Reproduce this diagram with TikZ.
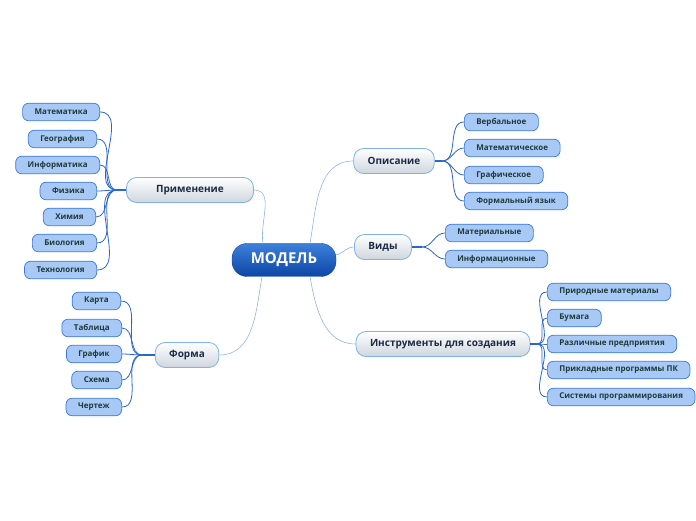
\documentclass[tikz,border=0pt]{standalone}
\usepackage{fontspec}
\setmainfont{Open Sans}
\usepackage{tikz}
\usetikzlibrary{positioning}
\definecolor{leaffill}{HTML}{A8C8F5}
\definecolor{leafdraw}{HTML}{3A78D8}
\definecolor{leaftext}{HTML}{1E3B3B}
\definecolor{branchdraw}{HTML}{7FB2E5}
\definecolor{branchtext}{HTML}{1C2B45}
\definecolor{branchlow}{HTML}{CFD6DE}
\definecolor{modeltop}{HTML}{3D80DA}
\definecolor{modellow}{HTML}{0C46A6}
\definecolor{leaflink}{HTML}{2A66D0}
\definecolor{mainlink}{HTML}{8FB4E3}

\begin{document}
\begin{tikzpicture}[x=1pt,y=1pt,
    modelbox/.style={draw=modellow,top color=modeltop,bottom color=modellow,
      rounded corners=15pt,minimum width=104pt,minimum height=33pt,
      text=white,font=\fontsize{15}{15}\selectfont\bfseries},
    branchbox/.style={draw=branchdraw,line width=0.8pt,top color=white,bottom color=branchlow,
      rounded corners=10pt,minimum height=25pt,inner xsep=14pt,
      text=branchtext,font=\fontsize{10}{10}\selectfont\bfseries},
    leafbox/.style={draw=leafdraw,fill=leaffill,line width=0.7pt,
      rounded corners=6pt,minimum height=17.5pt,inner xsep=12pt,inner ysep=0pt,
      text=leaftext,font=\fontsize{8}{8}\selectfont\bfseries},
    mainline/.style={draw=mainlink,line width=0.6pt},
    leafline/.style={draw=leaflink,line width=0.8pt},
    stemline/.style={draw=leaflink,line width=1.6pt}]
  \useasboundingbox (0,0) rectangle (696,520);

  % Center
  \node[modelbox] (model) at (284,260) {МОДЕЛЬ};

  % Main branches
  \node[branchbox,minimum width=127pt] (prim) at (190,330) {Применение};
  \node[branchbox] (forma) at (187,165) {Форма};
  \node[branchbox] (opis) at (394,359) {Описание};
  \node[branchbox] (vidy) at (383,273) {Виды};
  \node[branchbox] (instr) at (443,176) {Инструменты для создания};

  % Leaves of Применение
  \node[leafbox,anchor=east] (p1) at (100,408) {Математика};
  \node[leafbox,anchor=east] (p2) at (97,381) {География};
  \node[leafbox,anchor=east] (p3) at (100,355) {Информатика};
  \node[leafbox,anchor=east] (p4) at (97,329) {Физика};
  \node[leafbox,anchor=east] (p5) at (96,303) {Химия};
  \node[leafbox,anchor=east] (p6) at (97,277) {Биология};
  \node[leafbox,anchor=east] (p7) at (97,250) {Технология};

  % Leaves of Форма
  \node[leafbox,anchor=east] (f1) at (121,219) {Карта};
  \node[leafbox,anchor=east] (f2) at (122,192) {Таблица};
  \node[leafbox,anchor=east] (f3) at (122,166) {График};
  \node[leafbox,anchor=east] (f4) at (122,140) {Схема};
  \node[leafbox,anchor=east] (f5) at (122,113) {Чертеж};

  % Leaves of Описание
  \node[leafbox,anchor=west] (o1) at (464,398) {Вербальное};
  \node[leafbox,anchor=west] (o2) at (464,372) {Математическое};
  \node[leafbox,anchor=west] (o3) at (464,345) {Графическое};
  \node[leafbox,anchor=west] (o4) at (464,319) {Формальный язык};

  % Leaves of Виды
  \node[leafbox,anchor=west] (v1) at (445,287) {Материальные};
  \node[leafbox,anchor=west] (v2) at (445,261) {Информационные};

  % Leaves of Инструменты
  \node[leafbox,anchor=west] (i1) at (547,228) {Природные материалы};
  \node[leafbox,anchor=west] (i2) at (547,202) {Бумага};
  \node[leafbox,anchor=west] (i3) at (547,176) {Различные предприятия};
  \node[leafbox,anchor=west] (i4) at (547,150) {Прикладные программы ПК};
  \node[leafbox,anchor=west] (i5) at (547,123) {Системы программирования};

  % Junctions
  \coordinate (jp) at (117,330);
  \coordinate (jf) at (142,165);
  \coordinate (jo) at (442,359);
  \coordinate (jv) at (422,273);
  \coordinate (ji) at (537,176);

  % Links to center
  \draw[mainline] (prim.east) to[out=0,in=100] ([xshift=-21pt]model.north);
  \draw[mainline] (forma.east) to[out=0,in=-100] ([xshift=-22pt]model.south);
  \draw[mainline] (opis.west) to[out=180,in=80] ([xshift=26pt]model.north);
  \draw[mainline] (vidy.west) to[out=180,in=15] ([yshift=5pt]model.east);
  \draw[mainline] (instr.west) to[out=180,in=-80] ([xshift=26pt]model.south);

  % Stems
  \draw[stemline] (prim.west) -- (jp);
  \draw[stemline] (forma.west) -- (jf);
  \draw[stemline] (opis.east) -- (jo);
  \draw[stemline] (vidy.east) -- (jv);
  \draw[stemline] (instr.east) -- (ji);

  % Links to leaves
  \draw[leafline] (jp) to[out=180,in=0] (p1.east);
  \draw[leafline] (jp) to[out=180,in=0] (p2.east);
  \draw[leafline] (jp) to[out=180,in=0] (p3.east);
  \draw[leafline] (jp) to[out=180,in=0] (p4.east);
  \draw[leafline] (jp) to[out=180,in=0] (p5.east);
  \draw[leafline] (jp) to[out=180,in=0] (p6.east);
  \draw[leafline] (jp) to[out=180,in=0] (p7.east);
  \draw[leafline] (jf) to[out=180,in=0] (f1.east);
  \draw[leafline] (jf) to[out=180,in=0] (f2.east);
  \draw[leafline] (jf) to[out=180,in=0] (f3.east);
  \draw[leafline] (jf) to[out=180,in=0] (f4.east);
  \draw[leafline] (jf) to[out=180,in=0] (f5.east);
  \draw[leafline] (jo) to[out=0,in=180] (o1.west);
  \draw[leafline] (jo) to[out=0,in=180] (o2.west);
  \draw[leafline] (jo) to[out=0,in=180] (o3.west);
  \draw[leafline] (jo) to[out=0,in=180] (o4.west);
  \draw[leafline] (jv) to[out=0,in=180] (v1.west);
  \draw[leafline] (jv) to[out=0,in=180] (v2.west);
  \draw[leafline] (ji) to[out=0,in=180] (i1.west);
  \draw[leafline] (ji) to[out=0,in=180] (i2.west);
  \draw[leafline] (ji) to[out=0,in=180] (i3.west);
  \draw[leafline] (ji) to[out=0,in=180] (i4.west);
  \draw[leafline] (ji) to[out=0,in=180] (i5.west);
\end{tikzpicture}
\end{document}
